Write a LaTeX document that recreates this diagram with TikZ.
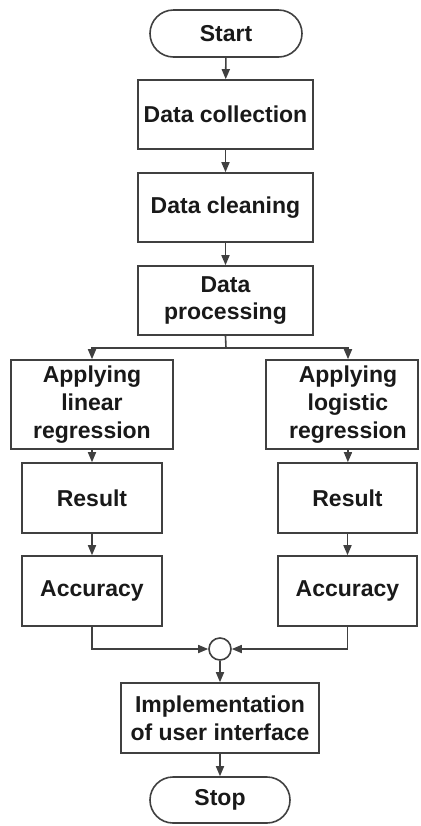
\documentclass[tikz,border=0pt]{standalone}
\usepackage{fontspec}
\setmainfont{Liberation Sans}
\usetikzlibrary{positioning,shapes.misc,arrows.meta}

\begin{document}
\begin{tikzpicture}[x=0.5pt, y=-0.5pt,
    every node/.style={font=\fontsize{11.5}{13.8}\selectfont\bfseries, align=center, text=black!90, inner sep=0pt},
    box/.style={draw=black!75, line width=0.8pt, rectangle},
    pill/.style={draw=black!75, line width=0.8pt, rounded rectangle},
    joint/.style={draw=black!75, line width=0.8pt, circle, minimum size=11pt},
    flow/.style={draw=black!75, line width=0.8pt, -{Triangle[length=5pt, width=4pt]}},
    link/.style={draw=black!75, line width=0.8pt}]

    \useasboundingbox (0,0) rectangle (420,826);

    \node[pill, minimum width=76pt, minimum height=23.5pt] (start) at (226,33.5) {Start};
    \node[box, minimum width=87.5pt, minimum height=34.5pt] (coll) at (225.5,114.5) {Data collection};
    \node[box, minimum width=87.5pt, minimum height=34.5pt] (clean) at (225.5,207.5) {Data cleaning};
    \node[box, minimum width=87.5pt, minimum height=34.5pt] (proc) at (225.5,300.5) {Data\\processing};

    \coordinate (split) at (226,348);

    \node[box, minimum width=81pt, minimum height=44.5pt] (linreg) at (92,404.5) {Applying\\linear\\regression};
    \node[box, minimum width=76pt, minimum height=44.5pt] (logreg) at (342,404.5) {\hspace*{6pt}Applying\\\hspace*{6pt}logistic\\\hspace*{6pt}regression};

    \node[box, minimum width=70pt, minimum height=35pt] (res1) at (92,498) {Result};
    \node[box, minimum width=69.5pt, minimum height=35pt] (res2) at (347.5,498) {Result};
    \node[box, minimum width=70pt, minimum height=35pt] (acc1) at (92,591) {Accuracy};
    \node[box, minimum width=69.5pt, minimum height=35pt] (acc2) at (347.5,591) {Accuracy};

    \node[joint] (join) at (220,649) {};

    \node[box, minimum width=99pt, minimum height=35pt] (impl) at (220,718) {Implementation\\of user interface};
    \node[pill, minimum width=70pt, minimum height=23pt] (stop) at (220,800) {Stop};

    \draw[flow] (start) -- (coll);
    \draw[flow] (coll) -- (clean);
    \draw[flow] (clean) -- (proc);

    \draw[link] (proc.south) -- (split);
    \draw[flow] (split) -| (linreg.north);
    \draw[flow] (split) -| ([xshift=3pt]logreg.north);

    \draw[flow] ([xshift=3pt]logreg.south) -- (res2);
    \draw[flow] (linreg) -- (res1);
    \draw[flow] (res1) -- (acc1);
    \draw[flow] (res2) -- (acc2);

    \draw[flow] (acc1) |- (join);
    \draw[flow] (acc2) |- (join);

    \draw[flow] (join) -- (impl);
    \draw[flow] (impl) -- (stop);
\end{tikzpicture}
\end{document}
